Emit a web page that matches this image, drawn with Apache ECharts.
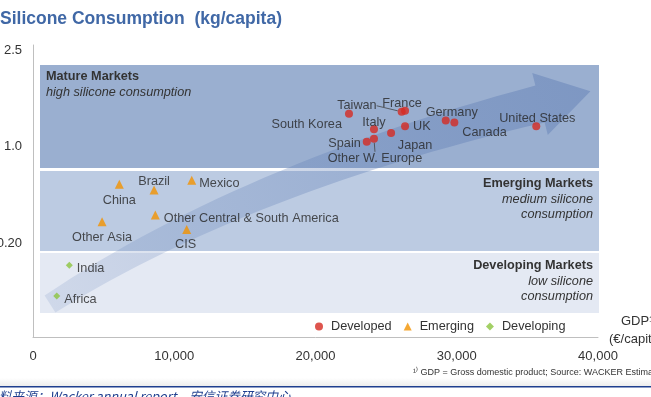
<!DOCTYPE html>
<html>
<head>
<meta charset="utf-8">
<script src="https://cdn.jsdelivr.net/npm/echarts@6/dist/echarts.min.js"></script>
<style>
  html, body { margin: 0; padding: 0; background: #fff; }
  #main { width: 651px; height: 397px; }
</style>
</head>
<body>
<div id="main"></div>
<script>
// x: GDP per capita (EUR); y: consumption level on the chart's stepped scale
// (level 1 = 0.20, 2 = 1.0, 3 = 2.5 kg/capita)
var developedNames = ['South Korea', 'Taiwan', 'France', 'Italy', 'Japan', 'UK', 'Spain', 'Other W. Europe', 'Germany', 'Canada', 'United States'];
var developedGdp = [22370, 26100, 26340, 24140, 25350, 26340, 23630, 24140, 29220, 29830, 35630];
var developedLevel = [2.34, 2.36, 2.37, 2.18, 2.14, 2.21, 2.05, 2.08, 2.27, 2.25, 2.21];

var emergingNames = ['China', 'Brazil', 'Mexico', 'Other Central & South America', 'Other Asia', 'CIS'];
var emergingGdp = [6110, 8570, 11240, 8660, 4890, 10880];
var emergingLevel = [1.61, 1.55, 1.65, 1.29, 1.22, 1.14];

var developingNames = ['India', 'Africa'];
var developingGdp = [2570, 1680];
var developingLevel = [0.77, 0.45];

var yTickLevels = [1, 2, 3];
var yTickLabels = ['0.20', '1.0', '2.5'];
var xTicks = [0, 10000, 20000, 30000, 40000];

var FONT = '"Liberation Sans", Arial, sans-serif';
var TXT = '#333333';
var FS = 12.7;

// label placement per point: [position, dx, dy]
var labelPlace = {
    'South Korea': ['left', 2, 11],
    'Taiwan': ['left', -16, -6],
    'France': ['top', -3, 8],
    'Italy': ['top', 0, 9],
    'UK': ['right', -1, 0],
    'Japan': ['bottom', 24, -3],
    'Spain': ['left', 3, 2],
    'Other W. Europe': ['bottom', 1, 4],
    'Germany': ['top', 6, 8],
    'Canada': ['right', -1, 10],
    'United States': ['top', 1, 8],
    'China': ['bottom', 0, 0],
    'Brazil': ['top', 0, 8],
    'Mexico': ['right', -2, 3],
    'Other Central & South America': ['right', -1, 3],
    'Other Asia': ['bottom', 0, 0],
    'CIS': ['bottom', -1, -1],
    'India': ['right', -1, 3],
    'Africa': ['right', -1, 3]
};
// labels tied to their point with a short leader line
var leaderNames = ['Taiwan', 'Other W. Europe'];

function buildData(names, gdp, level) {
    return names.map(function (n, i) {
        var item = {
            name: n,
            value: [gdp[i], level[i]],
            label: { position: labelPlace[n][0] }
        };
        if (leaderNames.indexOf(n) >= 0) {
            item.labelLine = { show: true, lineStyle: { color: '#444', width: 0.8 } };
        }
        return item;
    });
}

function layoutFn(params) {
    var p = labelPlace[params.text];
    return p ? { dx: p[1], dy: p[2] } : {};
}

var pointLabel = {
    show: true,
    formatter: '{b}',
    color: '#262626',
    fontSize: FS,
    fontFamily: FONT,
    distance: 5
};

// curved background arrow (decoration only)
var arrowTail = [50, 304], arrowCtrl = [245, 178], arrowBase = [540, 104];
function arrowPoints() {
    var up = [], down = [];
    var n = 30;
    for (var k = 0; k <= n; k++) {
        var t = k / n, s = 1 - t;
        var x = s * s * arrowTail[0] + 2 * s * t * arrowCtrl[0] + t * t * arrowBase[0];
        var y = s * s * arrowTail[1] + 2 * s * t * arrowCtrl[1] + t * t * arrowBase[1];
        var dx = 2 * s * (arrowCtrl[0] - arrowTail[0]) + 2 * t * (arrowBase[0] - arrowCtrl[0]);
        var dy = 2 * s * (arrowCtrl[1] - arrowTail[1]) + 2 * t * (arrowBase[1] - arrowCtrl[1]);
        var len = Math.sqrt(dx * dx + dy * dy);
        var nx = dy / len, ny = -dx / len;
        var hw = 10 + 9 * t;
        up.push([x + nx * hw, y + ny * hw]);
        down.push([x - nx * hw, y - ny * hw]);
    }
    var ex = arrowBase[0] - arrowCtrl[0], ey = arrowBase[1] - arrowCtrl[1];
    var el = Math.sqrt(ex * ex + ey * ey);
    var ux = ex / el, uy = ey / el, px = uy, py = -ux;
    var headHalf = 32, headLen = 52;
    var head = [
        [arrowBase[0] + px * headHalf, arrowBase[1] + py * headHalf],
        [arrowBase[0] + ux * headLen, arrowBase[1] + uy * headLen],
        [arrowBase[0] - px * headHalf, arrowBase[1] - py * headHalf]
    ];
    return up.concat(head, down.reverse());
}

var myChart = echarts.init(document.getElementById('main'));

var option = {
    animation: false,
    backgroundColor: '#fff',
    title: {
        text: 'Silicone Consumption  (kg/capita)',
        left: 0,
        top: 10,
        padding: 0,
        textStyle: { color: '#4068A6', fontSize: 17.5, fontWeight: 'bold', fontFamily: FONT }
    },
    legend: {
        left: 310,
        top: 315,
        itemWidth: 8,
        itemHeight: 8,
        itemGap: 12,
        textStyle: { color: TXT, fontSize: FS, fontFamily: FONT, padding: [0, 0, 0, 3] },
        data: ['Developed', 'Emerging', 'Developing']
    },
    grid: { left: 33, right: 53, top: 45, bottom: 60, outerBoundsMode: 'none', containLabel: false },
    xAxis: {
        type: 'value',
        min: 0,
        max: 40000,
        interval: 10000,
        axisLine: { show: true, lineStyle: { color: '#BFBFBF', width: 1 } },
        axisTick: { show: false },
        splitLine: { show: false },
        axisLabel: {
            color: TXT,
            fontSize: 13,
            fontFamily: FONT,
            margin: 13,
            formatter: function (v) {
                return xTicks.indexOf(v) >= 0 ? v.toLocaleString('en-US') : '';
            }
        }
    },
    yAxis: {
        type: 'value',
        min: 0.026,
        max: 3.052,
        axisLine: { show: true, lineStyle: { color: '#BFBFBF', width: 1 } },
        axisTick: { show: false },
        splitLine: { show: false },
        axisLabel: {
            color: TXT,
            fontSize: 13,
            fontFamily: FONT,
            margin: 11,
            customValues: yTickLevels,
            formatter: function (v) {
                var i = yTickLevels.indexOf(v);
                return i >= 0 ? yTickLabels[i] : '';
            }
        }
    },
    graphic: { elements: [
        // market bands
        { type: 'rect', z: 0, shape: { x: 40, y: 65, width: 559, height: 103 }, style: { fill: '#9AAFD0' } },
        { type: 'rect', z: 0, shape: { x: 40, y: 171, width: 559, height: 80 }, style: { fill: '#BCCBE2' } },
        { type: 'rect', z: 0, shape: { x: 40, y: 253, width: 559, height: 60 }, style: { fill: '#E4E9F3' } },
        {
            type: 'polygon', z: 1,
            shape: { points: arrowPoints() },
            style: {
                fill: {
                    type: 'linear', x: 0, y: 1, x2: 1, y2: 0,
                    colorStops: [
                        { offset: 0, color: 'rgba(100,130,185,0.16)' },
                        { offset: 1, color: 'rgba(95,125,180,0.48)' }
                    ]
                }
            }
        },
        { type: 'text', z: 5, left: 46, top: 70, style: { text: 'Mature Markets', fill: TXT, font: 'bold ' + FS + 'px ' + FONT } },
        { type: 'text', z: 5, left: 46, top: 86, style: { text: 'high silicone consumption', fill: TXT, font: 'italic ' + FS + 'px ' + FONT } },
        { type: 'text', z: 5, x: 593, y: 177, style: { text: 'Emerging Markets', fill: TXT, font: 'bold ' + FS + 'px ' + FONT, align: 'right' } },
        { type: 'text', z: 5, x: 593, y: 192, style: { text: 'medium silicone\nconsumption', fill: TXT, font: 'italic ' + FS + 'px ' + FONT, align: 'right', lineHeight: 15 } },
        { type: 'text', z: 5, x: 593, y: 259, style: { text: 'Developing Markets', fill: TXT, font: 'bold ' + FS + 'px ' + FONT, align: 'right' } },
        { type: 'text', z: 5, x: 593, y: 274, style: { text: 'low silicone\nconsumption', fill: TXT, font: 'italic ' + FS + 'px ' + FONT, align: 'right', lineHeight: 15 } },
        // axis name
        { type: 'text', z: 5, x: 621, y: 315, style: { text: 'GDP\u00b9\u207e', fill: TXT, font: '13px ' + FONT } },
        { type: 'text', z: 5, x: 609, y: 333, style: { text: '(\u20ac/capita)', fill: TXT, font: '13px ' + FONT } },
        // footnote and source
        { type: 'text', z: 5, x: 413, y: 368, style: { text: '\u00b9\u207e GDP = Gross domestic product; Source: WACKER Estimates', fill: TXT, font: '9px ' + FONT } },
        {
            type: 'rect', z: 0, shape: { x: 0, y: 378, width: 651, height: 8 },
            style: { fill: { type: 'linear', x: 0, y: 0, x2: 0, y2: 1, colorStops: [{ offset: 0, color: '#ffffff' }, { offset: 1, color: '#EDEDED' }] } }
        },
        { type: 'rect', z: 5, shape: { x: 0, y: 386, width: 651, height: 1.6 }, style: { fill: '#1F3F8F' } },
        { type: 'text', z: 5, x: -14, y: 390, style: { text: '资料来源：Wacker annual report，安信证券研究中心', fill: '#1F3F8F', font: 'italic 12.7px "Noto Sans CJK SC", ' + FONT } }
    ] },
    series: [
        {
            name: 'Developed',
            type: 'scatter',
            z: 3,
            symbol: 'circle',
            symbolSize: 8,
            itemStyle: { color: '#D62B22' },
            label: pointLabel,
            labelLayout: layoutFn,
            data: buildData(developedNames, developedGdp, developedLevel)
        },
        {
            name: 'Emerging',
            type: 'scatter',
            z: 3,
            symbol: 'triangle',
            symbolSize: 9,
            itemStyle: { color: '#F39200' },
            label: pointLabel,
            labelLayout: layoutFn,
            data: buildData(emergingNames, emergingGdp, emergingLevel)
        },
        {
            name: 'Developing',
            type: 'scatter',
            z: 3,
            symbol: 'diamond',
            symbolSize: 7,
            itemStyle: { color: '#8CC43F' },
            label: pointLabel,
            labelLayout: layoutFn,
            data: buildData(developingNames, developingGdp, developingLevel)
        }
    ]
};

myChart.setOption(option);
</script>
</body>
</html>
